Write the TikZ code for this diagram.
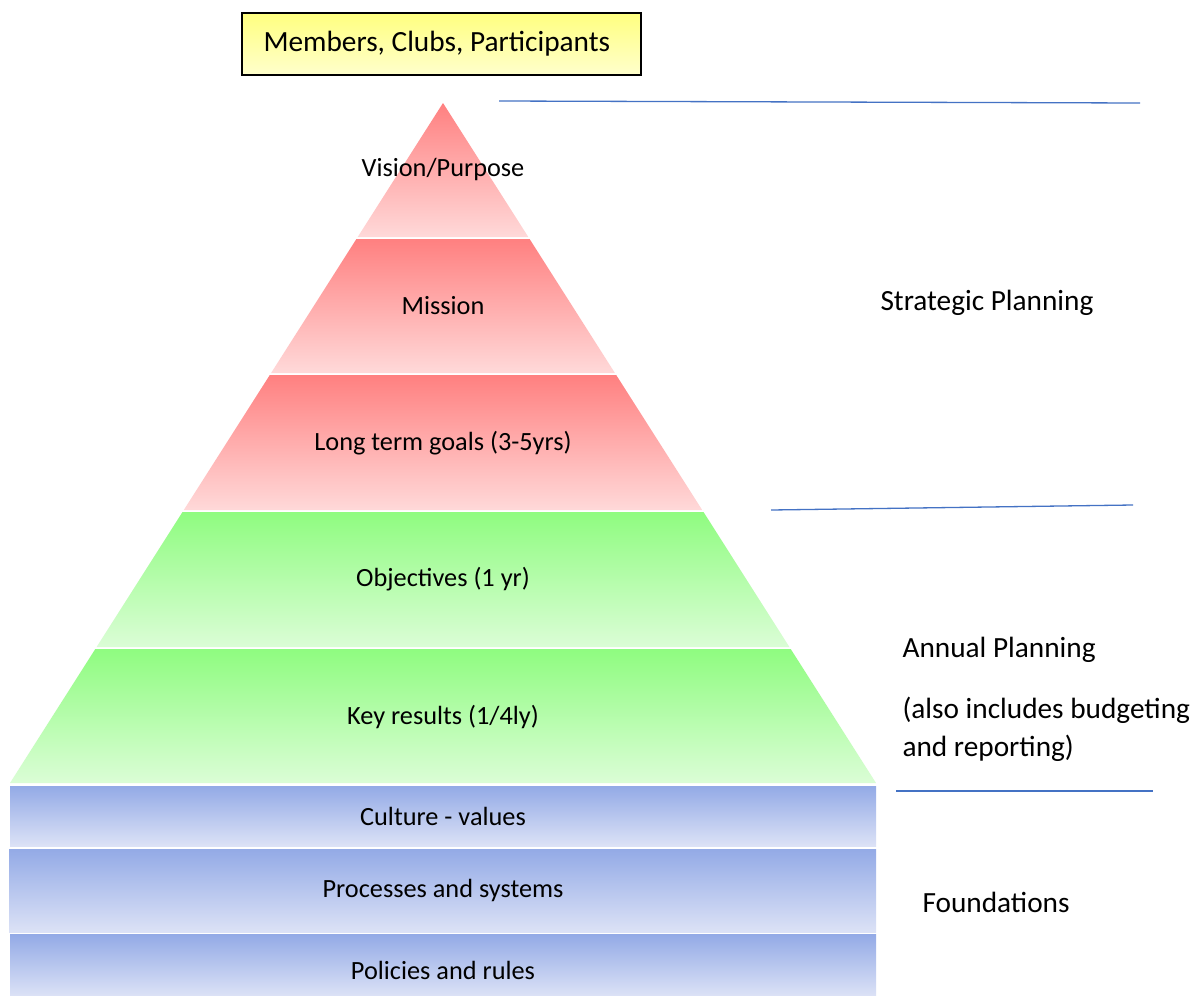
\documentclass[tikz,border=0pt]{standalone}
\usepackage{fontspec}
\setmainfont{Carlito}
\definecolor{pyrred1}{HTML}{FF8080}
\definecolor{pyrred2}{HTML}{FFD9D9}
\definecolor{pyrgreen1}{HTML}{8FFC80}
\definecolor{pyrgreen2}{HTML}{DBFDD6}
\definecolor{pyrblue1}{HTML}{93AAE6}
\definecolor{pyrblue2}{HTML}{DCE2F6}
\definecolor{lineblue}{HTML}{4472C4}
\begin{document}
\begin{tikzpicture}[x=1pt,y=-1pt,
  redband/.style={top color=pyrred1, bottom color=pyrred2, draw=none},
  greenband/.style={top color=pyrgreen1, bottom color=pyrgreen2, draw=none},
  blueband/.style={top color=pyrblue1, bottom color=pyrblue2, draw=none},
  bandtext/.style={font=\fontsize{26.3}{32}\selectfont, text=black},
  sidetext/.style={font=\fontsize{29.3}{38}\selectfont, anchor=west, align=left},
  divider/.style={draw=lineblue, line width=1.3pt}]
\fill[white] (0,0) rectangle (1195,996);
\useasboundingbox (0,0) rectangle (1195,996);

% header box
\shade[top color=yellow!50!white, bottom color=yellow!20!white, draw=black, line width=2pt]
  (242,13) rectangle (641,75);
\node[font=\fontsize{29.3}{36}\selectfont, anchor=west] (members) at (260,44) {Members, Clubs, Participants};

% pyramid layers
\shade[redband] (443,103) -- (528.3,237) -- (357.7,237) -- cycle;
\node[bandtext] (vision) at (443,169) {Vision/Purpose};
\shade[redband] (356.4,239) -- (529.6,239) -- (614.9,373) -- (271.1,373) -- cycle;
\node[bandtext] (mission) at (443,306) {Mission};
\shade[redband] (269.8,375) -- (616.2,375) -- (702.2,510) -- (183.8,510) -- cycle;
\node[bandtext] (goals) at (443,443) {Long term goals (3-5yrs)};
\shade[greenband] (182.5,512) -- (703.5,512) -- (789.4,647) -- (96.6,647) -- cycle;
\node[bandtext] (objectives) at (443,579) {Objectives (1 yr)};
\shade[greenband] (95.3,649) -- (790.7,649) -- (876,783) -- (10,783) -- cycle;
\node[bandtext] (keyresults) at (443,717) {Key results (1/4ly)};

% foundation blocks
\shade[blueband] (10,786) rectangle (876,846);
\node[bandtext] (culture) at (443,816) {Culture - values};
\shade[blueband] (9,849) rectangle (876,932);
\node[bandtext] (processes) at (443,890) {Processes and systems};
\shade[blueband] (10,934) rectangle (876,996);
\node[bandtext] (policies) at (443,970) {Policies and rules};

% side labels
\node[sidetext] (strategic) at (877,303) {Strategic Planning};
\node[sidetext] (annual) at (899,650) {Annual Planning};
\node[sidetext] (annualnote) at (899,729) {(also includes budgeting\\and reporting)};
\node[sidetext] (foundations) at (919,902) {Foundations};

% section dividers
\coordinate (d1a) at (499,101); \coordinate (d1b) at (1140,103);
\coordinate (d2a) at (771,510); \coordinate (d2b) at (1133,505);
\coordinate (d3a) at (896,791); \coordinate (d3b) at (1153,791);
\draw[divider] (d1a) -- (d1b);
\draw[divider] (d2a) -- (d2b);
\draw[divider] (d3a) -- (d3b);
\end{tikzpicture}
\end{document}
